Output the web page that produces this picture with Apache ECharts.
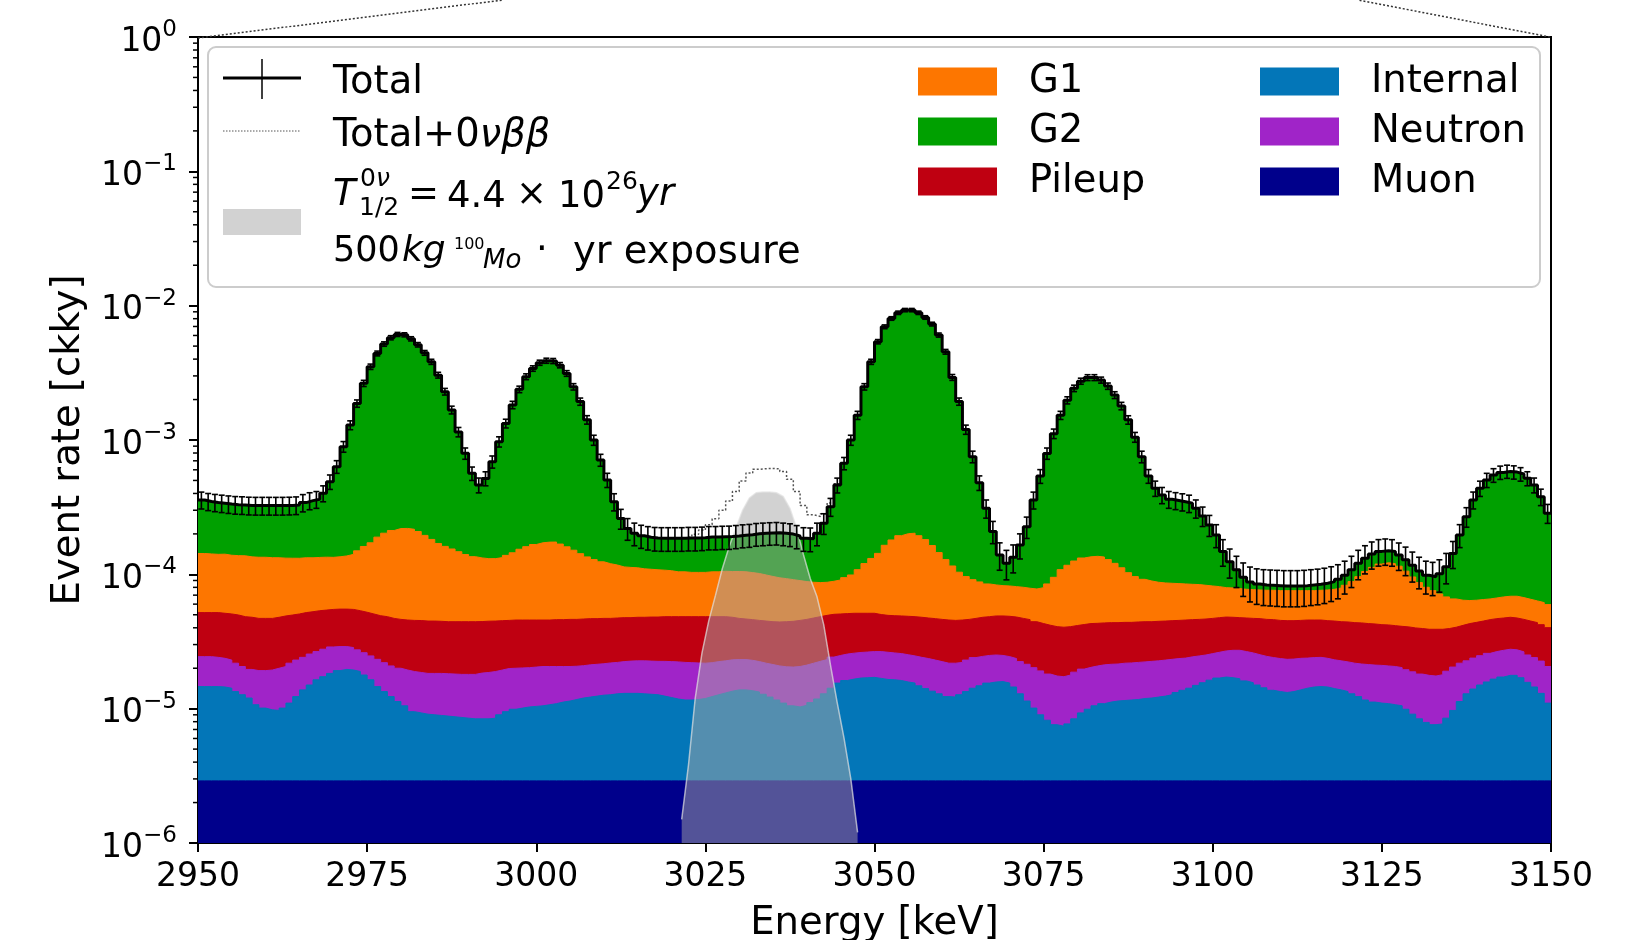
<!DOCTYPE html>
<html><head><meta charset="utf-8">
<script src="https://cdn.jsdelivr.net/npm/echarts@6/dist/echarts.min.js"></script>
<style>html,body{margin:0;padding:0;background:#fff}#c{width:1645px;height:940px}</style>
</head><body><div id="c"></div>
<script>
// ---------------- data (event rates in units of 1e-5 ckky, 1 keV bins starting at 2950 keV) ----------------
const UNIT = 1e-5;
const firstBin = 2950;
const nBins = 200;
const xTicks = [2950, 2975, 3000, 3025, 3050, 3075, 3100, 3125, 3150];
const yTickExponents = [0, -1, -2, -3, -4, -5, -6];

const muon = [
0.29,0.29,0.29,0.29,0.29,0.29,0.29,0.29,0.29,0.29, 0.29,0.29,0.29,0.29,0.29,0.29,0.29,0.29,0.29,0.29,
0.29,0.29,0.29,0.29,0.29,0.29,0.29,0.29,0.29,0.29, 0.29,0.29,0.29,0.29,0.29,0.29,0.29,0.29,0.29,0.29,
0.29,0.29,0.29,0.29,0.29,0.29,0.29,0.29,0.29,0.29, 0.29,0.29,0.29,0.29,0.29,0.29,0.29,0.29,0.29,0.29,
0.29,0.29,0.29,0.29,0.29,0.29,0.29,0.29,0.29,0.29, 0.29,0.29,0.29,0.29,0.29,0.29,0.29,0.29,0.29,0.29,
0.29,0.29,0.29,0.29,0.29,0.29,0.29,0.29,0.29,0.29, 0.29,0.29,0.29,0.29,0.29,0.29,0.29,0.29,0.29,0.29,
0.29,0.29,0.29,0.29,0.29,0.29,0.29,0.29,0.29,0.29, 0.29,0.29,0.29,0.29,0.29,0.29,0.29,0.29,0.29,0.29,
0.29,0.29,0.29,0.29,0.29,0.29,0.29,0.29,0.29,0.29, 0.29,0.29,0.29,0.29,0.29,0.29,0.29,0.29,0.29,0.29,
0.29,0.29,0.29,0.29,0.29,0.29,0.29,0.29,0.29,0.29, 0.29,0.29,0.29,0.29,0.29,0.29,0.29,0.29,0.29,0.29,
0.29,0.29,0.29,0.29,0.29,0.29,0.29,0.29,0.29,0.29, 0.29,0.29,0.29,0.29,0.29,0.29,0.29,0.29,0.29,0.29,
0.29,0.29,0.29,0.29,0.29,0.29,0.29,0.29,0.29,0.29, 0.29,0.29,0.29,0.29,0.29,0.29,0.29,0.29,0.29,0.29];

const internal = [
1.17,1.17,1.17,1.16,1.13,1.05,0.98,0.91,0.78,0.72, 0.69,0.68,0.72,0.81,0.94,1.09,1.21,1.35,1.44,1.54,
1.63,1.67,1.65,1.60,1.49,1.35,1.17,1.05,0.94,0.84, 0.76,0.66,0.64,0.62,0.61,0.60,0.59,0.58,0.57,0.56,
0.55,0.55,0.55,0.56,0.61,0.66,0.70,0.72,0.74,0.75, 0.76,0.78,0.80,0.83,0.85,0.88,0.91,0.93,0.95,0.97,
0.98,1.00,1.01,1.01,1.01,1.00,0.99,0.98,0.95,0.92, 0.89,0.87,0.87,0.88,0.90,0.94,0.98,1.02,1.06,1.09,
1.09,1.07,1.04,0.99,0.93,0.87,0.81,0.76,0.74,0.77, 0.82,0.89,1.00,1.13,1.26,1.33,1.37,1.40,1.41,1.42,
1.39,1.36,1.35,1.33,1.29,1.26,1.19,1.12,1.06,1.00, 0.94,0.93,0.98,1.05,1.13,1.19,1.26,1.29,1.30,1.26,
1.16,1.00,0.85,0.72,0.61,0.53,0.47,0.45,0.48,0.55, 0.64,0.70,0.76,0.80,0.83,0.85,0.86,0.87,0.88,0.90,
0.91,0.93,0.95,0.98,1.03,1.08,1.13,1.20,1.27,1.34, 1.40,1.43,1.41,1.38,1.32,1.27,1.21,1.14,1.08,1.05,
1.03,1.05,1.09,1.13,1.16,1.17,1.16,1.12,1.09,1.05, 1.00,0.94,0.87,0.83,0.81,0.80,0.78,0.76,0.70,0.62,
0.55,0.50,0.47,0.48,0.56,0.68,0.84,1.00,1.11,1.21, 1.29,1.37,1.43,1.48,1.48,1.41,1.28,1.16,1.01,0.81];

const neutron = [
0.98,0.98,0.95,0.92,0.88,0.84,0.79,0.76,0.85,0.91, 0.96,1.03,1.05,1.08,1.07,1.03,1.05,1.02,1.04,1.05,
0.98,0.94,0.91,0.85,0.83,0.83,0.87,0.86,0.85,0.87, 0.89,0.94,0.93,0.92,0.93,0.94,0.94,0.94,0.94,0.95,
0.96,1.00,1.02,1.04,1.04,1.04,1.01,1.00,0.99,1.00, 1.01,0.99,0.97,0.94,0.92,0.90,0.89,0.90,0.90,0.90,
0.92,0.92,0.94,0.96,0.97,0.98,0.98,0.98,1.01,1.03, 1.05,1.05,1.04,1.02,0.99,0.97,0.97,0.96,0.96,0.94,
0.94,0.93,0.91,0.90,0.91,0.92,0.95,0.99,1.03,1.05, 1.07,1.07,1.03,1.00,0.94,0.93,0.93,0.93,0.94,0.95,
0.98,0.98,0.96,0.95,0.94,0.92,0.93,0.95,0.95,0.95, 0.95,0.96,0.94,0.96,0.98,0.97,0.94,0.93,0.90,0.89,
0.91,0.95,1.00,1.01,1.01,0.99,0.99,0.99,1.01,1.03, 1.04,1.04,1.03,1.03,1.02,1.01,1.03,1.03,1.04,1.04,
1.05,1.05,1.06,1.06,1.04,1.01,1.01,0.98,0.95,0.94, 0.94,0.97,1.02,1.05,1.05,1.04,1.02,1.02,1.03,1.02,
1.01,1.00,0.99,0.96,0.95,0.95,0.92,0.90,0.89,0.89, 0.89,0.92,0.97,0.99,1.00,0.99,0.99,0.97,0.96,0.97,
0.97,0.98,0.99,1.02,1.05,1.07,1.05,0.98,0.98,0.98, 1.00,1.00,1.00,1.00,0.97,0.95,0.94,0.95,0.96,0.96];

const pileup = [
2.75,2.75,2.78,2.76,2.77,2.80,2.78,2.83,2.78,2.78, 2.76,2.79,2.84,2.80,2.77,2.78,2.72,2.70,2.65,2.60,
2.61,2.61,2.63,2.62,2.61,2.60,2.59,2.64,2.62,2.62, 2.63,2.65,2.67,2.66,2.66,2.64,2.62,2.63,2.64,2.64,
2.64,2.61,2.62,2.60,2.58,2.55,2.57,2.56,2.55,2.53, 2.51,2.51,2.54,2.54,2.56,2.55,2.56,2.56,2.54,2.54,
2.51,2.52,2.52,2.50,2.52,2.52,2.55,2.56,2.59,2.60, 2.61,2.63,2.64,2.65,2.66,2.64,2.60,2.57,2.48,2.38,
2.33,2.31,2.30,2.31,2.31,2.34,2.39,2.43,2.48,2.51, 2.55,2.59,2.63,2.62,2.58,2.55,2.54,2.51,2.49,2.47,
2.36,2.32,2.32,2.33,2.35,2.37,2.38,2.37,2.38,2.38, 2.39,2.36,2.36,2.32,2.30,2.34,2.35,2.39,2.41,2.43,
2.45,2.46,2.46,2.42,2.39,2.37,2.33,2.31,2.30,2.29, 2.26,2.27,2.24,2.23,2.23,2.22,2.21,2.20,2.21,2.21,
2.19,2.20,2.19,2.19,2.18,2.19,2.17,2.15,2.14,2.13, 2.13,2.12,2.07,2.04,2.07,2.10,2.16,2.17,2.20,2.18,
2.19,2.18,2.17,2.19,2.17,2.16,2.15,2.18,2.17,2.19, 2.19,2.20,2.17,2.16,2.12,2.12,2.09,2.08,2.11,2.11,
2.14,2.13,2.15,2.11,2.05,2.00,1.99,2.03,2.01,2.01, 2.02,2.02,2.01,2.02,1.99,1.97,1.98,1.97,1.96,1.95];

const g1 = [
9.1,9.0,8.9,9.0,8.8,8.8,8.9,8.7,8.7,8.7, 8.6,8.5,8.3,8.2,8.1,8.1,8.0,8.0,8.0,7.9,
8.0,8.2,8.6,9.6,10.9,12.1,14.0,15.4,16.5,17.3, 17.4,17.1,16.3,15.0,13.7,12.5,11.7,11.0,10.3,9.6,
9.1,8.8,8.6,8.6,8.8,9.3,9.9,10.8,11.5,12.1, 12.6,12.8,12.8,12.2,11.4,10.5,9.6,8.8,8.2,7.7,
7.3,7.0,6.6,6.5,6.4,6.2,6.1,6.0,5.9,5.8, 5.6,5.6,5.5,5.5,5.5,5.6,5.6,5.7,5.7,5.8,
5.8,5.7,5.6,5.4,5.2,5.0,4.85,4.66,4.44,4.21, 4.00,3.84,3.78,3.84,4.01,4.35,4.76,5.7,6.9,8.0,
9.3,11.5,13.1,14.5,15.2,15.4,14.6,13.4,11.7,9.9, 8.3,7.0,5.8,5.0,4.43,3.99,3.64,3.44,3.34,3.32,
3.29,3.31,3.28,3.34,3.66,4.30,5.42,6.8,7.6,8.4, 9.0,9.2,9.3,9.1,8.5,7.7,6.8,5.9,5.2,4.74,
4.48,4.26,4.14,4.06,3.99,3.91,3.83,3.77,3.64,3.49, 3.34,3.15,3.13,3.07,3.01,2.99,2.97,2.99,3.01,3.02,
3.04,3.04,3.02,2.99,2.99,3.04,3.13,3.25,3.48,3.87, 4.46,5.26,6.2,7.0,7.7,8.0,7.85,7.4,6.5,5.57,
4.73,4.11,3.66,3.24,2.84,2.52,2.25,2.08,2.03,2.00, 1.96,1.99,2.06,2.08,2.14,2.09,2.03,1.97,1.94,1.94];

const g2 = [
21.5,20.7,20.2,19.7,19.5,19.2,19.1,19.1,19.1,19.1, 19.2,19.2,19.3,19.4,19.6,20.9,22.1,22.8,26.7,35.5,
49.8,75.5,115,172,248,334,422,498,556,589, 585,545,491,426,364,287,213,152,100,65.5,
42.9,33.0,38.7,55.8,83.8,119,168,223,280,324, 359,372,370,344,297,234,179,128,87.0,58.6,
38.4,23.0,14.7,10.7,9.0,8.4,8.0,7.8,7.8,7.9, 8.1,8.1,8.3,8.3,8.4,8.5,8.5,8.5,8.6,8.8,
9.1,9.4,9.9,10.3,10.7,11.0,10.9,10.8,10.3,9.7, 9.7,11.5,15.3,23.0,37.1,57.6,90.0,142,237,369,
525,680,785,866,907,907,866,799,713,590, 441,281,183,110,66.0,39.3,22.5,12.5,5.7,3.9,
5.3,8.5,14.7,28.0,45.9,71.0,102,142,186,230, 261,278,278,266,239,204,168,131,95.4,65.9,
45.0,35.0,30.3,27.6,26.9,26.2,25.4,22.6,18.9,15.1, 11.5,6.84,4.48,2.97,1.76,1.09,0.83,0.73,0.68,0.68,
0.63,0.63,0.63,0.68,0.78,0.82,0.93,1.09,1.26,1.54, 1.97,2.49,2.7,2.9,2.9,2.8,2.8,2.4,2.3,2.14,
1.92,1.82,2.05,2.96,4.61,7.74,13.2,20.5,29.4,37.2, 43.8,48.1,50.6,51.5,50.8,49.1,45.3,39.9,31.6,22.6];

// 0vbb signal (T1/2 = 4.4e26 yr, 500 kg yr), per 1 keV bin
const signalBins = [3021,3022,3023,3024,3025,3026,3027,3028,3029,3030,3031,3032,3033,3034,3035,3036,3037,3038,3039,3040,3041,3042,3043,3044,3045,3046,3047];
const signalRate = [0.15,0.38,1.2,2.6,4.5,7.0,11,16,22,30,37,40.5,41,41,40.5,38,31,22,14,9.3,6.8,4.2,2.1,1.1,0.6,0.3,0.12];

// effective exposure used for the Poisson error bars: sigma = sqrt(rate*exposure)/exposure
const exposureFactor = 1.35e5;

// ---------------- build series data ----------------
const FONT = 'DejaVu Sans';
const edges = Array.from({length: nBins + 1}, (_, i) => firstBin + i);
function stepData(vals) {
  const d = vals.map((v, i) => [edges[i], v * UNIT]);
  d.push([edges[nBins], vals[nBins - 1] * UNIT]);
  return d;
}
const components = [
  {name: 'Muon', vals: muon, color: '#00008b'},
  {name: 'Internal', vals: internal, color: '#0376b8'},
  {name: 'Neutron', vals: neutron, color: '#a024c8'},
  {name: 'Pileup', vals: pileup, color: '#bf0011'},
  {name: 'G1', vals: g1, color: '#fd7600'},
  {name: 'G2', vals: g2, color: '#00a000'}
];
// stacked (cumulative) tops of each component
let running = edges.slice(0, nBins).map(() => 0);
const stackedTops = components.map(c => {
  running = running.map((r, i) => r + c.vals[i]);
  return running.slice();
});
const total = stackedTops[stackedTops.length - 1];
const signalPerBin = total.map(() => 0);
signalBins.forEach((b, k) => { signalPerBin[b - firstBin] = signalRate[k]; });
const totalPlusSignal = total.map((t, i) => t + signalPerBin[i]);
const errData = total.map((t, i) => {
  const v = t * UNIT;
  const s = Math.sqrt(v * exposureFactor) / exposureFactor;
  return [edges[i] + 0.5, v, v - s, v + s];
});
const signalData = signalBins.map((b, k) => [b + 0.5, signalRate[k] * UNIT]);
const minorTickData = [];
for (let e = -6; e < 0; e++) for (let k = 2; k <= 9; k++) minorTickData.push([firstBin, k * Math.pow(10, e)]);

// draw from the top layer down so every lower layer is painted over the one above it
const stackSeries = components.map((c, k) => ({
  name: c.name, type: 'line', step: 'end', data: stepData(stackedTops[k]),
  symbol: 'none', silent: true, color: c.color,
  lineStyle: {color: c.color, width: 1},
  areaStyle: {color: c.color, opacity: 1, origin: 'start'},
  z: 1
})).reverse();

const chart = echarts.init(document.getElementById('c'));
const TXT = {fontFamily: FONT, color: '#000'};
const legendText = {fontSize: 38.5, ...TXT, lineHeight: 28, padding: [16, 0, 0, 27]};

chart.setOption({
  animation: false,
  backgroundColor: '#fff',
  grid: {left: 198, top: 37, width: 1353, height: 806, show: true, borderColor: '#000', borderWidth: 2,
         backgroundColor: 'transparent', containLabel: false, outerBoundsMode: 'none'},
  xAxis: {
    type: 'value', min: 2950, max: 3150, interval: 25,
    name: 'Energy [keV]', nameLocation: 'middle', nameGap: 61,
    nameTextStyle: {fontSize: 38.6, ...TXT},
    axisLine: {onZero: false, lineStyle: {color: '#000', width: 2}},
    axisTick: {length: 9, lineStyle: {color: '#000', width: 2}},
    axisLabel: {fontSize: 33, ...TXT, margin: 18, formatter: v => xTicks.includes(v) ? String(v) : ''},
    splitLine: {show: false}
  },
  yAxis: {
    type: 'log', logBase: 10, min: 1e-6, max: 1, splitNumber: 6,
    name: 'Event rate [ckky]', nameLocation: 'middle', nameGap: 110, nameRotate: 90,
    nameTextStyle: {fontSize: 38.6, ...TXT},
    axisLine: {lineStyle: {color: '#000', width: 2}},
    axisTick: {length: 9, lineStyle: {color: '#000', width: 2}},
    axisLabel: {
      margin: 21,
      formatter: v => {
        const e = Math.round(Math.log10(v));
        if (!yTickExponents.includes(e)) return '';
        return '{b|10}{s|' + (e < 0 ? '\u2212' + (-e) : String(e)) + '}';
      },
      rich: {b: {fontSize: 33, ...TXT, padding: [10, 0, 0, 0]}, s: {fontSize: 23, ...TXT, padding: [0, 0, 14, 0]}}
    },
    splitLine: {show: false}
  },
  legend: [
    {data: ['G1', 'G2', 'Pileup'].map(n => ({name: n, icon: 'rect'})), left: 918, top: 59.5, orient: 'vertical',
     itemWidth: 79, itemHeight: 28, itemGap: 6, selectedMode: false, padding: 0, z: 10, textStyle: legendText},
    {data: ['Internal', 'Neutron', 'Muon'].map(n => ({name: n, icon: 'rect'})), left: 1260, top: 59.5, orient: 'vertical',
     itemWidth: 79, itemHeight: 28, itemGap: 6, selectedMode: false, padding: 0, z: 10, textStyle: legendText}
  ],
  graphic: [
    {type: 'line', shape: {x1: 198, y1: 38, x2: 503, y2: 0}, style: {stroke: '#333', lineWidth: 1.5, lineDash: [2, 2]}, z: 5},
    {type: 'line', shape: {x1: 1550, y1: 37, x2: 1358, y2: 0}, style: {stroke: '#333', lineWidth: 1.5, lineDash: [2, 2]}, z: 5},
    {type: 'rect', shape: {x: 208, y: 47, width: 1332, height: 240, r: 8}, style: {fill: 'rgba(255,255,255,0.8)', stroke: '#cccccc', lineWidth: 2}, z: 0},
    // Total entry
    {type: 'line', shape: {x1: 223, y1: 78, x2: 301, y2: 78}, style: {stroke: '#000', lineWidth: 3}, z: 20},
    {type: 'line', shape: {x1: 262, y1: 59, x2: 262, y2: 99}, style: {stroke: '#000', lineWidth: 1.5}, z: 20},
    {type: 'text', x: 333, y: 83, style: {text: 'Total', font: '38.5px "DejaVu Sans"', fill: '#000', verticalAlign: 'middle'}, z: 20},
    // Total + 0vbb entry
    {type: 'line', shape: {x1: 223, y1: 131, x2: 301, y2: 131}, style: {stroke: '#555', lineWidth: 1, lineDash: [1.5, 1.5]}, z: 20},
    {type: 'text', x: 333, y: 136, style: {text: '{n|Total+0}{i|νββ}', verticalAlign: 'middle',
      rich: {n: {fontSize: 38.5, ...TXT}, i: {fontSize: 38.5, ...TXT, fontStyle: 'italic'}}}, z: 20},
    // signal entry
    {type: 'rect', shape: {x: 223, y: 209, width: 78, height: 26}, style: {fill: 'rgba(165,165,165,0.5)'}, z: 20},
    {type: 'text', x: 333, y: 195, style: {text: 'T', font: 'italic 37px "DejaVu Sans"', fill: '#000', verticalAlign: 'middle'}, z: 20},
    {type: 'text', x: 360, y: 179, style: {text: '{n|0}{i|ν}', verticalAlign: 'middle',
      rich: {n: {fontSize: 25, ...TXT}, i: {fontSize: 25, ...TXT, fontStyle: 'italic'}}}, z: 20},
    {type: 'text', x: 359, y: 208, style: {text: '1/2', font: '25px "DejaVu Sans"', fill: '#000', verticalAlign: 'middle'}, z: 20},
    {type: 'text', x: 408, y: 195, style: {text: '=', font: '37px "DejaVu Sans"', fill: '#000', verticalAlign: 'middle'}, z: 20},
    {type: 'text', x: 447, y: 197, style: {text: '4.4', font: '37px "DejaVu Sans"', fill: '#000', verticalAlign: 'middle'}, z: 20},
    {type: 'text', x: 516, y: 195, style: {text: '×', font: '37px "DejaVu Sans"', fill: '#000', verticalAlign: 'middle'}, z: 20},
    {type: 'text', x: 558, y: 197, style: {text: '10', font: '37px "DejaVu Sans"', fill: '#000', verticalAlign: 'middle'}, z: 20},
    {type: 'text', x: 606, y: 182, style: {text: '26', font: '25px "DejaVu Sans"', fill: '#000', verticalAlign: 'middle'}, z: 20},
    {type: 'text', x: 637, y: 195, style: {text: 'yr', font: 'italic 37px "DejaVu Sans"', fill: '#000', verticalAlign: 'middle'}, z: 20},
    {type: 'text', x: 333, y: 252, style: {text: '500', font: '35px "DejaVu Sans"', fill: '#000', verticalAlign: 'middle'}, z: 20},
    {type: 'text', x: 402, y: 252, style: {text: 'kg', font: 'italic 36px "DejaVu Sans"', fill: '#000', verticalAlign: 'middle'}, z: 20},
    {type: 'text', x: 454, y: 245, style: {text: '100', font: '16px "DejaVu Sans"', fill: '#000', verticalAlign: 'middle'}, z: 20},
    {type: 'text', x: 483, y: 261, style: {text: 'Mo', font: 'italic 26px "DejaVu Sans"', fill: '#000', verticalAlign: 'middle'}, z: 20},
    {type: 'text', x: 536, y: 251, style: {text: '·', font: '37px "DejaVu Sans"', fill: '#000', verticalAlign: 'middle'}, z: 20},
    {type: 'text', x: 573, y: 253, style: {text: 'yr exposure', font: '38.5px "DejaVu Sans"', fill: '#000', verticalAlign: 'middle'}, z: 20}
  ],
  series: [
    ...stackSeries,
    {name: '0νββ', type: 'line', data: signalData, symbol: 'none', silent: true, smooth: false,
     lineStyle: {color: 'rgba(225,225,225,0.7)', width: 1.5},
     areaStyle: {color: 'rgba(165,165,165,0.5)', opacity: 1, origin: 'start'}, z: 3},
    {name: 'Total+0νββ', type: 'line', step: 'end', data: stepData(totalPlusSignal), symbol: 'none', silent: true,
     lineStyle: {color: '#555', width: 1.5, type: [2, 2]}, z: 4},
    {name: 'Total', type: 'line', step: 'end', data: stepData(total), symbol: 'none', silent: true,
     lineStyle: {color: '#000', width: 3}, z: 5},
    {name: 'errors', type: 'custom', data: errData, encode: {x: 0, y: 1}, silent: true, z: 6, clip: false,
     renderItem: (params, api) => {
       const x = api.value(0), lo = api.value(2), hi = api.value(3);
       const a = api.coord([x, lo]), b = api.coord([x, hi]);
       const c = 3, st = {stroke: '#000', lineWidth: 1.6};
       return {type: 'group', children: [
         {type: 'line', shape: {x1: a[0], y1: a[1], x2: b[0], y2: b[1]}, style: st},
         {type: 'line', shape: {x1: a[0] - c, y1: a[1], x2: a[0] + c, y2: a[1]}, style: st},
         {type: 'line', shape: {x1: b[0] - c, y1: b[1], x2: b[0] + c, y2: b[1]}, style: st}
       ]};
     }},
    {name: 'minorTicks', type: 'custom', data: minorTickData, encode: {x: 0, y: 1}, silent: true, z: 6, clip: false,
     renderItem: (params, api) => {
       const p = api.coord([api.value(0), api.value(1)]);
       return {type: 'line', shape: {x1: p[0] - 5, y1: p[1], x2: p[0], y2: p[1]}, style: {stroke: '#000', lineWidth: 1.5}};
     }}
  ]
});
</script></body></html>
